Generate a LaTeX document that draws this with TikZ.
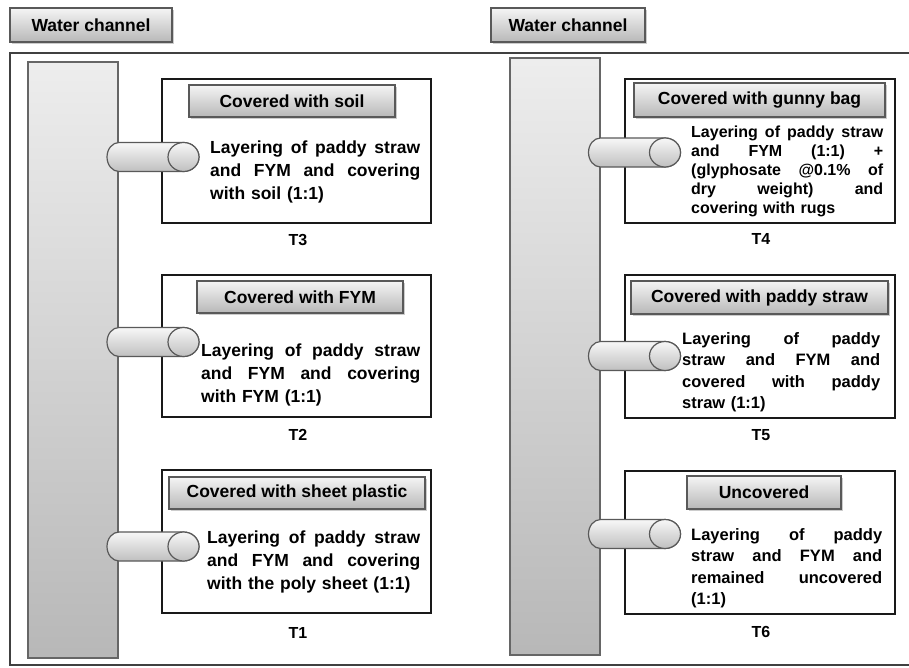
\documentclass[tikz,border=0pt]{standalone}
\usepackage{fontspec}
\setmainfont{Liberation Sans}
\usetikzlibrary{shadows}

\newlength{\jw}
\newcommand{\jl}[1]{\makebox[\jw][s]{\spaceskip=0pt\relax #1}\\}

\tikzset{
    chan/.style={draw=black!60, line width=1.6pt, top color=black!7, bottom color=black!28,
        minimum width=90pt, drop shadow={opacity=0.35, shadow xshift=1.2pt, shadow yshift=-1.2pt}},
    head/.style={draw=black!65, line width=1.4pt, top color=black!4, bottom color=black!28,
        drop shadow={opacity=0.4, shadow xshift=1.5pt, shadow yshift=-1.5pt},
        font=\fontsize{17.5}{20}\selectfont\bfseries, inner sep=0pt},
    bed/.style={draw=black!90, line width=2.2pt, fill=white, inner sep=0pt,
        drop shadow={opacity=0.3, shadow xshift=1pt, shadow yshift=-1pt}},
    pipe/.style={draw=black!65, line width=1.2pt, top color=black!3, bottom color=black!25},
    txtL/.style={font=\fontsize{17.5}{23}\selectfont\bfseries, align=left, inner sep=0pt,
        anchor=north west, text width=#1, execute at begin node={\setlength{\jw}{#1}}},
    txtR/.style={font=\fontsize{16.5}{21.5}\selectfont\bfseries, align=left, inner sep=0pt,
        anchor=north west, text width=#1, execute at begin node={\setlength{\jw}{#1}}},
    lab/.style={font=\fontsize{16}{18}\selectfont\bfseries}
}

\begin{document}
\begin{tikzpicture}[x=1pt, y=-1pt]
        \useasboundingbox (0,0) rectangle (909,667);
        % outer frame (open at the right)
        \draw[line width=2.2pt, black!75] (909,53) -- (10,53) -- (10,665) -- (909,665);

        % water channels
        \node[head, minimum width=162pt, minimum height=34pt] (wcL) at (91,25) {Water channel};
        \node[head, minimum width=154pt, minimum height=34pt] (wcR) at (568,25) {Water channel};
        \node[chan, minimum height=596pt] (chL) at (73,360) {};
        \node[chan, minimum height=597pt] (chR) at (555,356.5) {};

        % plots
        \node[bed, minimum width=269pt, minimum height=144pt] (b3) at (296.5,151) {};
        \node[bed, minimum width=269pt, minimum height=142pt] (b2) at (296.5,346) {};
        \node[bed, minimum width=269pt, minimum height=143pt] (b1) at (296.5,541.5) {};
        \node[bed, minimum width=270pt, minimum height=144pt] (b4) at (760,151) {};
        \node[bed, minimum width=270pt, minimum height=143pt] (b5) at (760,346.5) {};
        \node[bed, minimum width=270pt, minimum height=143pt] (b6) at (760,542.5) {};

        \node[head, minimum width=206pt, minimum height=32pt] (h3) at (292,101) {Covered with soil};
        \node[head, minimum width=206pt, minimum height=32pt] (h2) at (300,297) {Covered with FYM};
        \node[head, minimum width=256pt, minimum height=32pt] (h1) at (297,493) {Covered with sheet plastic};
        \node[head, minimum width=251pt, minimum height=34pt] (h4) at (759.5,100) {Covered with gunny bag};
        \node[head, minimum width=257pt, minimum height=33pt] (h5) at (759.5,297.5) {Covered with paddy straw};
        \node[head, minimum width=154pt, minimum height=33pt] (h6) at (764,492.5) {Uncovered};

        \node[txtL=210pt] (x3) at (210,141)
            {\jl{Layering of paddy straw}\jl{and FYM and covering}with soil (1:1)};
        \node[txtL=219pt] (x2) at (201,344)
            {\jl{Layering of paddy straw}\jl{and FYM and covering}with FYM (1:1)};
        \node[txtL=213pt] (x1) at (207,531)
            {\jl{Layering of paddy straw}\jl{and FYM and covering}with the poly sheet (1:1)};
        \node[txtR=192pt, font=\fontsize{16}{19}\selectfont\bfseries] (x4) at (691,126)
            {\jl{Layering of paddy straw}\jl{and FYM (1:1) +}\jl{(glyphosate @0.1\% of}\jl{dry weight) and}covering with rugs};
        \node[txtR=198pt] (x5) at (682,332)
            {\jl{Layering of paddy}\jl{straw and FYM and}\jl{covered with paddy}straw (1:1)};
        \node[txtR=191pt] (x6) at (691,528)
            {\jl{Layering of paddy}\jl{straw and FYM and}\jl{remained uncovered}(1:1)};

        \node[lab] (t3) at (298,240) {T3};
        \node[lab] (t2) at (298,435) {T2};
        \node[lab] (t1) at (298,633) {T1};
        \node[lab] (t4) at (761,239) {T4};
        \node[lab] (t5) at (761,435) {T5};
        \node[lab] (t6) at (761,632) {T6};

        % inlet pipes
        \foreach \n/\x/\y in {p3/153/157, p2/153/342, p1/153/546.5, p4/634.5/152.5, p5/634.5/356, p6/634.5/534} {
            \begin{scope}[shift={(\x,\y)}]
                \coordinate (\n) at (0,0);
                \draw[pipe] (30.5,-14.5) -- (-34,-14.5) arc[start angle=270, end angle=90, x radius=12, y radius=14.5]
                    -- (30.5,14.5) arc[start angle=90, end angle=-90, x radius=15.5, y radius=14.5] -- cycle;
                \draw[pipe] (30.5,0) ellipse[x radius=15.5, y radius=14.5];
            \end{scope}
        }
    \end{tikzpicture}
\end{document}
